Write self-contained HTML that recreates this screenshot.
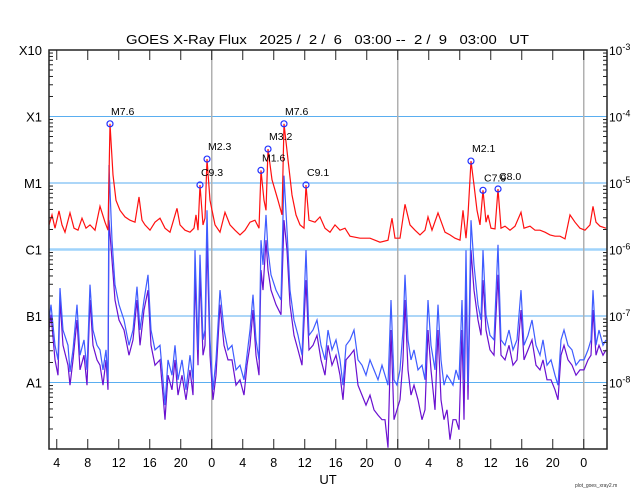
<!DOCTYPE html>
<html><head><meta charset="utf-8"><style>
html,body{margin:0;padding:0;background:#fff;}
svg{display:block;font-family:"Liberation Sans",sans-serif;}
</style></head><body>
<svg id="chart" width="640" height="500" viewBox="0 0 640 500" xmlns="http://www.w3.org/2000/svg">
<rect x="0" y="0" width="640" height="500" fill="#fff"/>
<text x="126" y="44" font-size="13" textLength="403" lengthAdjust="spacingAndGlyphs" style="white-space:pre">GOES X-Ray Flux   2025 /  2 /  6   03:00 --  2 /  9   03:00   UT</text>
<g id="grid"></g>
<g id="series"></g>
<g id="axes"></g>
<text x="328" y="484" font-size="13" text-anchor="middle">UT</text>
<text x="575" y="487" font-size="5" fill="#333">plot_goes_xray2.m</text>
</svg>
<script>
// ---- data ----
const tickHours = [1,5,9,13,17,21,25,29,33,37,41,45,49,53,57,61,65,69];
const tickLabels = ["4","8","12","16","20","0","4","8","12","16","20","0","4","8","12","16","20","0"];
const dayHours = [21,45,69];
const classLabels = ["X10","X1","M1","C1","B1","A1"];
const classExp = [-3,-4,-5,-6,-7,-8];
const rightExp = ["-3","-4","-5","-6","-7","-8"];

const longHours = [0,0.39,0.77,1.29,1.68,2.06,2.71,3.23,3.74,4.26,4.77,5.29,5.94,6.58,7.23,7.61,7.87,8.26,8.65,9.16,9.81,10.45,11.10,11.61,12.0,12.39,13.03,13.68,14.32,14.97,15.61,16.52,16.90,17.55,18.19,18.71,18.97,19.23,19.48,19.87,20.13,20.39,20.77,21.42,22.06,22.71,23.35,24.0,24.65,25.29,25.94,26.58,27.10,27.35,27.74,28.0,28.26,28.77,29.55,30.06,30.32,30.84,31.35,31.87,32.39,32.90,33.16,33.55,34.32,34.97,35.61,36.26,36.90,37.55,38.19,38.84,40.13,41.42,42.71,43.74,44.26,44.65,45.29,45.94,46.58,47.23,47.87,48.52,48.90,49.42,50.19,51.10,51.74,52.39,53.03,53.42,53.81,54.06,54.45,54.84,55.23,55.61,56.0,56.39,56.65,57.03,57.55,57.94,58.32,58.84,59.48,60.13,60.90,61.29,62.06,62.71,63.35,64.0,64.65,65.29,65.94,66.58,67.23,67.87,68.52,69.16,69.81,70.19,70.58,71.10,71.87];
const longLog = [-5.63,-5.48,-5.68,-5.42,-5.63,-5.74,-5.45,-5.68,-5.71,-5.53,-5.68,-5.63,-5.71,-5.35,-5.59,-5.71,-4.11,-4.88,-5.26,-5.41,-5.51,-5.56,-5.59,-5.21,-5.56,-5.63,-5.71,-5.59,-5.53,-5.68,-5.74,-5.38,-5.63,-5.71,-5.74,-5.68,-5.48,-5.71,-5.03,-5.63,-5.53,-4.64,-5.26,-5.63,-5.74,-5.44,-5.63,-5.71,-5.78,-5.71,-5.59,-5.56,-5.68,-4.81,-5.26,-5.41,-4.49,-4.95,-5.26,-5.48,-4.11,-4.65,-5.18,-5.48,-5.63,-5.68,-5.03,-5.56,-5.59,-5.51,-5.68,-5.74,-5.63,-5.71,-5.68,-5.80,-5.83,-5.83,-5.89,-5.86,-5.53,-5.83,-5.83,-5.32,-5.63,-5.71,-5.78,-5.71,-5.51,-5.71,-5.45,-5.74,-5.78,-5.83,-5.86,-5.41,-5.83,-5.48,-4.67,-5.03,-5.41,-5.63,-5.11,-5.59,-5.48,-5.68,-5.69,-5.09,-5.68,-5.65,-5.71,-5.65,-5.44,-5.68,-5.65,-5.71,-5.71,-5.74,-5.78,-5.80,-5.80,-5.84,-5.48,-5.59,-5.68,-5.71,-5.63,-5.35,-5.59,-5.65,-5.68];

const shortHours = [0.0,0.26,0.77,1.16,1.42,1.81,2.45,2.71,3.10,3.61,4.0,4.52,4.90,5.29,5.68,6.19,6.58,6.97,7.35,7.61,7.74,8.13,8.52,9.03,9.68,10.32,10.84,11.35,11.74,12.26,12.77,13.16,13.68,14.32,14.71,14.97,15.35,15.87,16.26,16.65,17.16,17.68,18.19,18.58,18.84,19.23,19.48,19.87,20.13,20.39,20.77,21.16,21.55,22.06,22.58,23.10,23.61,24.13,24.65,25.16,25.55,25.94,26.32,26.71,27.10,27.35,27.61,28.0,28.26,28.65,29.29,29.94,30.32,30.71,31.10,31.61,32.13,32.65,33.16,33.55,34.06,34.58,35.10,35.61,36.0,36.52,37.03,37.55,37.94,38.32,38.84,39.35,39.87,40.39,40.90,41.42,41.94,42.45,42.97,43.35,43.74,44.13,44.52,44.90,45.29,45.68,45.94,46.32,46.71,47.10,47.61,48.13,48.52,48.90,49.29,49.81,50.19,50.58,50.97,51.35,51.74,52.13,52.52,52.90,53.29,53.55,53.81,54.06,54.45,54.84,55.35,55.74,56.0,56.39,56.90,57.42,57.94,58.32,58.84,59.35,59.87,60.39,60.90,61.29,61.81,62.32,62.84,63.35,63.74,64.26,64.77,65.29,65.68,66.06,66.45,66.97,67.48,68.0,68.52,69.03,69.55,69.94,70.19,70.58,70.97,71.48,71.87];
const shortLog = [-7.06,-6.83,-7.44,-7.66,-6.58,-7.21,-7.44,-7.84,-7.51,-6.83,-7.59,-7.36,-7.81,-6.53,-7.21,-7.44,-7.51,-7.81,-7.51,-7.96,-4.73,-5.86,-6.53,-6.83,-7.06,-7.44,-7.21,-6.56,-7.21,-6.76,-6.38,-7.21,-7.51,-7.44,-7.96,-8.34,-7.66,-7.89,-7.44,-7.96,-7.66,-8.11,-7.59,-7.96,-6.01,-7.51,-6.08,-7.36,-7.21,-5.41,-7.36,-8.11,-7.66,-6.61,-7.21,-7.51,-7.44,-7.81,-7.74,-7.96,-7.59,-7.21,-6.68,-7.36,-7.66,-5.86,-6.23,-5.48,-6.01,-6.38,-6.61,-6.76,-4.89,-5.71,-6.61,-7.06,-7.29,-7.59,-6.01,-7.29,-7.21,-7.06,-7.44,-7.66,-7.21,-7.51,-7.36,-7.66,-8.04,-7.44,-7.36,-7.21,-7.66,-7.74,-7.89,-7.66,-7.81,-7.96,-7.74,-7.89,-8.04,-6.76,-7.96,-8.04,-7.81,-7.21,-6.38,-7.36,-7.66,-7.51,-7.81,-7.74,-7.96,-6.76,-7.44,-7.81,-6.83,-7.66,-8.04,-7.89,-7.96,-8.04,-7.81,-7.96,-6.76,-7.96,-6.01,-8.04,-5.56,-6.23,-6.83,-7.06,-6.01,-6.98,-7.29,-7.36,-5.93,-7.36,-7.44,-7.21,-7.51,-7.36,-6.61,-7.44,-7.29,-7.06,-7.44,-7.59,-7.36,-7.74,-7.66,-7.89,-8.04,-7.36,-7.21,-7.44,-7.51,-7.74,-7.66,-7.66,-7.51,-7.36,-6.61,-7.44,-7.21,-7.44,-7.36];
const shortLowLog = [-7.21,-6.98,-7.66,-7.89,-6.76,-7.44,-7.74,-8.04,-7.66,-7.06,-7.81,-7.59,-8.04,-6.76,-7.44,-7.66,-7.74,-8.04,-7.66,-8.11,-5.56,-6.16,-6.76,-7.06,-7.21,-7.59,-7.36,-6.76,-7.44,-6.91,-6.61,-7.44,-7.74,-7.66,-8.19,-8.56,-7.89,-8.11,-7.66,-8.19,-7.89,-8.26,-7.81,-8.19,-6.38,-7.74,-6.38,-7.59,-7.44,-5.86,-7.59,-8.26,-7.89,-6.83,-7.44,-7.66,-7.66,-8.04,-7.96,-8.19,-7.74,-7.44,-6.91,-7.59,-7.89,-6.31,-6.61,-5.86,-6.31,-6.61,-6.83,-6.98,-5.56,-6.01,-6.83,-7.29,-7.51,-7.74,-6.46,-7.51,-7.44,-7.29,-7.66,-7.89,-7.44,-7.74,-7.59,-7.89,-8.26,-7.66,-7.59,-7.51,-8.04,-8.19,-8.34,-8.19,-8.41,-8.49,-8.56,-8.56,-8.98,-7.21,-8.56,-8.41,-8.26,-7.66,-6.76,-7.81,-8.19,-8.04,-8.26,-8.56,-8.41,-7.21,-7.81,-8.41,-7.21,-8.26,-8.56,-8.41,-8.86,-8.56,-8.56,-8.71,-7.21,-8.56,-6.46,-8.26,-6.01,-6.61,-7.06,-7.29,-6.46,-7.21,-7.51,-7.59,-6.38,-7.59,-7.66,-7.44,-7.74,-7.66,-6.91,-7.66,-7.51,-7.36,-7.74,-7.81,-7.66,-7.96,-7.96,-8.11,-8.26,-7.59,-7.44,-7.66,-7.74,-7.89,-7.81,-7.81,-7.66,-7.59,-6.91,-7.59,-7.44,-7.59,-7.51];

const flareHours = [7.87,19.48,20.39,27.35,28.26,30.32,33.16,54.45,56.0,57.94];
const flareLog = [-4.11,-5.03,-4.64,-4.81,-4.49,-4.11,-5.03,-4.67,-5.11,-5.09];
const flareLabels = ["M7.6","C9.3","M2.3","M1.6","M3.2","M7.6","C9.1","M2.1","C7.9","C8.0"];

// ---- axes ----
const L=49,R=607,T=50,B=449;
function xs(h){return L+h*(R-L)/72;}
function ys(l){return T+(-3-l)*(B-T)/6;}
const NS="http://www.w3.org/2000/svg";
function mk(parent,tag,attrs){const e=document.createElementNS(NS,tag);for(const k in attrs)e.setAttribute(k,attrs[k]);parent.appendChild(e);return e;}
const grid=document.getElementById('grid'),ser=document.getElementById('series'),ax=document.getElementById('axes');

classExp.forEach((e,i)=>{
  if(e===-3)return;
  const g=mk(grid,'line',{x1:L,x2:R,y1:ys(e),y2:ys(e),stroke:e===-6?'#9fd3fb':'#5aaef0','stroke-width':e===-6?2.5:1});
  
  
});
dayHours.forEach(h=>{
  const g=mk(grid,'line',{x1:xs(h),x2:xs(h),y1:T,y2:B,stroke:'#b0b0b0','stroke-width':1.5});
  
  
});

function pathFrom(hs,vs){return hs.map((h,i)=>(i?'L':'M')+xs(h).toFixed(1)+','+ys(vs[i]).toFixed(1)).join('');}
const p3=mk(ser,'path',{d:pathFrom(shortHours,shortLowLog),fill:'none',stroke:'#6a10d0','stroke-width':1.2});


const p2=mk(ser,'path',{d:pathFrom(shortHours,shortLog),fill:'none',stroke:'#3f5cff','stroke-width':1.2});


const p1=mk(ser,'path',{d:pathFrom(longHours,longLog),fill:'none',stroke:'#ff1010','stroke-width':1.2});



flareHours.forEach((h,i)=>{
  const c=mk(ser,'circle',{cx:xs(h),cy:ys(flareLog[i]),r:3,fill:'none',stroke:'#2030ff','stroke-width':1.2});
  
  
  const t=mk(ser,'text',{x:xs(h)+1,y:ys(flareLog[i])-9,'font-size':10.5});
  t.textContent=flareLabels[i];
  
  
});

// frame
const fr=mk(ax,'rect',{x:L,y:T,width:R-L,height:B-T,fill:'none',stroke:'#222','stroke-width':1.5});


// x ticks
tickHours.forEach((h,i)=>{
  const x=xs(h);
  const a=mk(ax,'line',{x1:x,x2:x,y1:T,y2:T+10,stroke:'#222','stroke-width':1});
  
  
  const b=mk(ax,'line',{x1:x,x2:x,y1:B,y2:B-10,stroke:'#222','stroke-width':1});
  
  
  const t=mk(ax,'text',{x:x,y:467,'font-size':12.5,'text-anchor':'middle'});
  t.textContent=tickLabels[i];
  
  
});
// y ticks
for(let d=-3;d>-9;d--){
  for(let m=2;m<=9;m++){
    const y=ys(d-1+Math.log10(m));
    const a=mk(ax,'line',{x1:L,x2:L+4,y1:y,y2:y,stroke:'#222','stroke-width':1});
    
    
    const b=mk(ax,'line',{x1:R,x2:R-4,y1:y,y2:y,stroke:'#222','stroke-width':1});
    
    
  }
}
classExp.forEach((e,i)=>{
  const y=ys(e);
  const t=mk(ax,'text',{x:42,y:y+5,'font-size':13,'text-anchor':'end'});
  t.textContent=classLabels[i];
  
  
  const r=mk(ax,'text',{x:609,y:y+5,'font-size':12});
  r.textContent='10';
  const s=mk(r,'tspan',{dy:-5,'font-size':9});
  s.textContent=rightExp[i];
  
  
});
</script>
</body></html>
